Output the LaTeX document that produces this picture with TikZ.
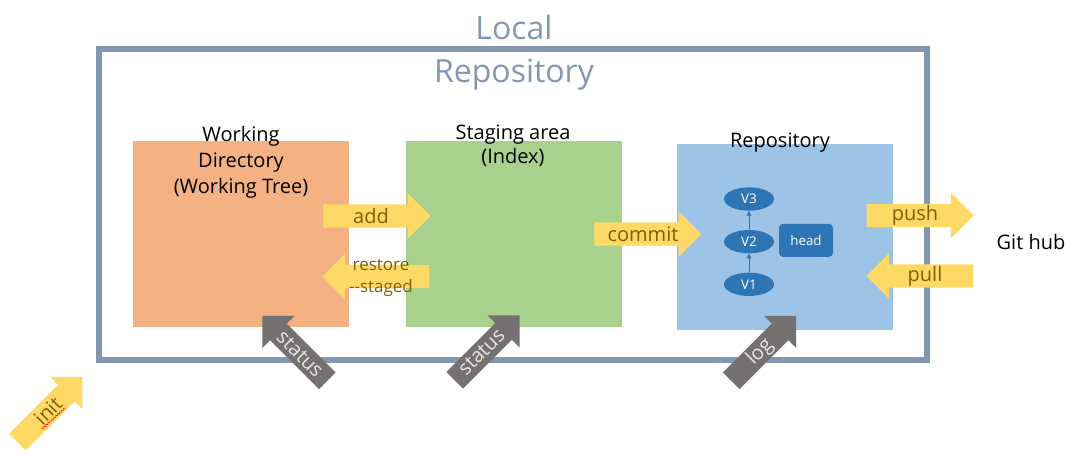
\documentclass[tikz,border=0pt]{standalone}
\usepackage{fontspec}
\setmainfont{Open Sans}
\usetikzlibrary{shapes.arrows,shapes.geometric,arrows.meta,decorations.pathmorphing}

\definecolor{framegray}{HTML}{8497B0}
\definecolor{wdorange}{HTML}{F4B183}
\definecolor{stgreen}{HTML}{A9D18E}
\definecolor{repoblue}{HTML}{9DC3E6}
\definecolor{vblue}{HTML}{2E75B6}
\definecolor{yellowarrow}{HTML}{FFD966}
\definecolor{grayarrow}{HTML}{767171}
\definecolor{olive}{HTML}{7F6000}
\definecolor{lightlbl}{HTML}{E7E6E6}

\begin{document}
\begin{tikzpicture}[x=0.75pt,y=0.75pt,yscale=-1,xscale=1,
  area/.style={rectangle, draw=none, minimum width=162pt, minimum height=139.5pt, inner sep=0pt},
  boxtext/.style={align=center, inner sep=0.75pt, font=\fontsize{15pt}{19.5pt}\selectfont},
  fat/.style={single arrow, draw=none, inner sep=0pt, inner ysep=8.6pt, single arrow head extend=8.3pt, minimum height=80.25pt, anchor=tip},
  diag/.style={minimum height=69pt},
  cmd/.style={text=olive, inner sep=0.75pt, font=\fontsize{15pt}{18pt}\selectfont},
  graytext/.style={text=lightlbl, inner sep=0.75pt, font=\fontsize{15pt}{18pt}\selectfont},
  ver/.style={ellipse, fill=vblue, text=white, minimum width=37.5pt, minimum height=17.5pt, inner sep=0pt, font=\fontsize{10pt}{12pt}\selectfont},
  headbox/.style={rectangle, rounded corners=3pt, fill=vblue, text=white, minimum width=40.5pt, minimum height=24.75pt, inner sep=0pt, font=\fontsize{10pt}{12pt}\selectfont},
  link/.style={draw=vblue, line width=0.75pt, -{Triangle[length=3.5pt,width=3.5pt]}}
]
\useasboundingbox (0,0) rectangle (1080,455);

%Shape: Rectangle [local repository]
\draw [color=framegray, line width=4.5pt] (99,49) rectangle (927,360);
% Text Node
\node [align=center, text=framegray, font=\fontsize{24pt}{32pt}\selectfont] (title) at (514,52.5) {Local\\Repository};

%Shape: Rectangle
\node [area, fill=wdorange] (wd) at (241,234) {};
%Shape: Rectangle
\node [area, fill=stgreen] (stage) at (513.5,234) {};
%Shape: Rectangle
\node [area, fill=repoblue] (repo) at (785,237) {};

% Text Node
\node [boxtext] (wdlbl) at (241,162) {Working\\Directory\\(Working Tree)};
% Text Node
\node [boxtext, font=\fontsize{15pt}{18pt}\selectfont] (stagelbl) at (513,146) {Staging area\\(Index)};
% Text Node
\node [boxtext] (repolbl) at (780,143) {Repository};
% Text Node
\node [boxtext] (github) at (1031,242) {Git hub};

%Flowchart: Connector
\node [ver] (v3) at (749,199) {V3};
\node [ver] (v2) at (749,241.7) {V2};
\node [ver] (v1) at (749,284.3) {V1};
%Rounded Rect
\node [headbox] (head) at (806,240.3) {head};
%Straight Lines
\draw [link] (v1) -- (v2);
\draw [link] (v2) -- (v3);

%Right Arrow
\node [fat, fill=yellowarrow] (add) at (430.7,216) {};
\node [fat, fill=yellowarrow, rotate=180] (restore) at (322,276.5) {};
\node [fat, fill=yellowarrow] (commit) at (701.7,234) {};
\node [fat, fill=yellowarrow] (push) at (974,215.5) {};
\node [fat, fill=yellowarrow, rotate=180] (pull) at (866,276) {};
\node [fat, diag, fill=yellowarrow, rotate=45] (init) at (82.7,376.7) {};
%Right Arrow
\node [fat, diag, fill=grayarrow, rotate=135] (status1) at (262,315.5) {};
\node [fat, diag, fill=grayarrow, rotate=45] (status2) at (520,315) {};
\node [fat, diag, fill=grayarrow, rotate=45] (log) at (796.5,315.5) {};

% Text Node
\node [cmd] (addlbl) at (371,216) {add};
\node [cmd, align=center, font=\fontsize{12.75pt}{17pt}\selectfont] (restorelbl) at (381,278) {restore\\-{}-staged};
\node [cmd] (commitlbl) at (643,234) {commit};
\node [cmd] (pushlbl) at (915,215) {push};
\node [cmd] (pulllbl) at (925,276) {pull};
\node [cmd, rotate=45] (initlbl) at (48,411) {init};
\draw [red, decorate, decoration={zigzag, segment length=2pt, amplitude=0.6pt}] (42,429) -- (65,408);
% Text Node
\node [graytext, rotate=-45] (status1lbl) at (300,354) {status};
\node [graytext, rotate=45] (status2lbl) at (481.5,352) {status};
\node [graytext, rotate=45] (loglbl) at (760,352) {log};

\end{tikzpicture}
\end{document}
